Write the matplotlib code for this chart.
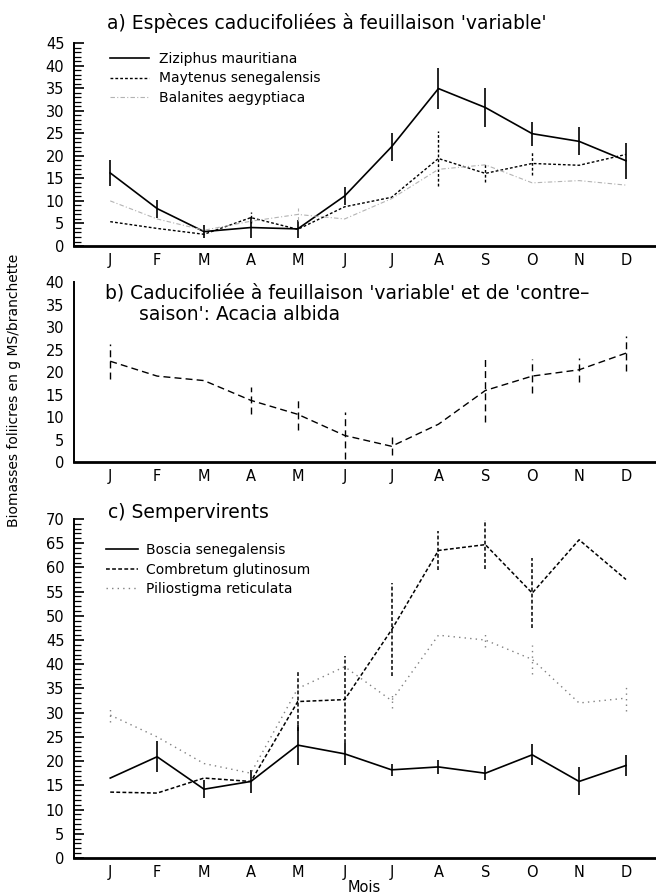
import numpy as np
import matplotlib
matplotlib.use("Agg")
from matplotlib import pyplot as plt
from matplotlib.ticker import MultipleLocator
from matplotlib.lines import Line2D

plt.rcParams['font.family'] = ['DejaVu Sans']

mois = ['J', 'F', 'M', 'A', 'M', 'J', 'J', 'A', 'S', 'O', 'N', 'D']

# a) caducifoliees
ziziphus = [16.2, 8.3, 3.2, 4.1, 3.8, 11.1, 22, 34.9, 30.7, 24.9, 23.2, 18.9]
ziziphus_err = [2.8, 2, 1.5, 2.3, 2, 1.9, 3.1, 4.5, 4.4, 2.7, 3.1, 4]
maytenus = [5.4, 3.9, 2.6, 6.3, 3.7, 8.7, 10.8, 19.4, 16.1, 18.3, 17.9, 20.3]
maytenus_err = [0, 0, 0, 1.2, 0, 0, 0, 6, 2, 2.5, 0, 0]
balanites = [10, 6, 3.5, 5.5, 7, 6, 10.5, 17, 18, 14, 14.5, 13.5]
balanites_err = [0, 0, 0, 0, 1.5, 0, 0, 0, 0, 0, 0, 0]

# b) Acacia albida
acacia = [22.4, 19.1, 18.1, 13.7, 10.6, 5.9, 3.5, 8.4, 15.9, 19.1, 20.5, 24.2]
acacia_err = [3.9, 0, 0, 3, 3.5, 5.2, 2, 0, 6.9, 3.8, 2.7, 3.9]

# c) sempervirents
boscia = [16.5, 20.9, 14.2, 15.8, 23.3, 21.5, 18.2, 18.8, 17.5, 21.3, 15.8, 19.1]
boscia_err = [0, 3.2, 1.8, 2.3, 4.1, 2.2, 1.3, 1.5, 1.4, 2.2, 2.9, 2.1]
combretum = [13.6, 13.4, 16.5, 15.8, 32.3, 32.7, 47.1, 63.5, 64.7, 54.7, 65.7, 57.5]
combretum_err = [0, 0, 0, 0, 6, 9, 9.6, 4, 5, 7.2, 0, 0]
piliostigma = [29.5, 25, 19.5, 17.5, 35, 39.5, 32.5, 46, 45, 41, 32, 33]
piliostigma_err = [1.5, 0, 0, 0, 0, 0, 1.5, 0, 1.5, 3, 0, 2.6]

x = np.arange(12)

fig = plt.figure(figsize=(6.56, 8.94), dpi=100)
ax_a = fig.add_axes([0.113, 0.7248, 0.887, 0.2271])
ax_b = fig.add_axes([0.113, 0.4832, 0.887, 0.2013])
ax_c = fig.add_axes([0.113, 0.0403, 0.887, 0.3792])


def serie(ax, y, err, ls, color='black', lw=1.1):
    eb = ax.errorbar(x, y, yerr=err, color=color, ls=ls, lw=lw, elinewidth=lw,
                     capsize=0)
    for c in eb[2]:
        c.set_linestyle(ls)
    return Line2D([], [], color=color, ls=ls, lw=lw)


def habillage(ax, ymax, minor=True):
    ax.set_xlim(-0.77, 11.64)
    ax.set_ylim(0, ymax)
    ax.set_xticks(x)
    ax.set_xticklabels(mois, fontsize=10.5)
    ax.yaxis.set_major_locator(MultipleLocator(5))
    ax.tick_params(axis='x', length=0, pad=5)
    ax.tick_params(axis='y', direction='in', length=7, width=1.2, labelsize=10.5, pad=7)
    if minor:
        ax.yaxis.set_minor_locator(MultipleLocator(1))
        ax.tick_params(axis='y', which='minor', direction='in', length=5, width=0.9)
    for s in ['top', 'right']:
        ax.spines[s].set_visible(False)
    ax.spines['left'].set_linewidth(1.4)
    ax.spines['bottom'].set_linewidth(2)
    ax.patch.set_alpha(0)


h1 = serie(ax_a, ziziphus, ziziphus_err, '-', lw=1.2)
h2 = serie(ax_a, maytenus, maytenus_err, (0, (2, 1.5)), lw=1.0)
h3 = serie(ax_a, balanites, balanites_err, (0, (4, 2, 1, 2)), color='0.7', lw=0.8)
habillage(ax_a, 45)
ax_a.legend([h1, h2, h3], ['Ziziphus mauritiana', 'Maytenus senegalensis', 'Balanites aegyptiaca'],
            loc='upper left', bbox_to_anchor=(0.062, 0.956), frameon=False,
            borderpad=0, borderaxespad=0,
            fontsize=10, handlelength=2.8, handletextpad=0.72, labelspacing=0.4)
fig.text(107 / 656, 1 - 23 / 894, "a) Espèces caducifoliées à feuillaison 'variable'",
         fontsize=13.5, va='center')

serie(ax_b, acacia, acacia_err, (0, (5, 3)), lw=1.0)
habillage(ax_b, 40, minor=False)
ax_b.tick_params(axis='y', length=0)
fig.text(105 / 656, 1 - 293 / 894, "b) Caducifoliée à feuillaison 'variable' et de 'contre\u2013",
         fontsize=13.5, va='center')
fig.text(139 / 656, 1 - 315 / 894, "saison': Acacia albida", fontsize=13.5, va='center')

h4 = serie(ax_c, boscia, boscia_err, '-', lw=1.2)
h5 = serie(ax_c, combretum, combretum_err, (0, (2.5, 1.5)), lw=1.1)
h6 = serie(ax_c, piliostigma, piliostigma_err, (0, (1, 3)), color='0.5', lw=1.0)
habillage(ax_c, 70)
ax_c.legend([h4, h5, h6], ['Boscia senegalensis', 'Combretum glutinosum', 'Piliostigma reticulata'],
            loc='upper left', bbox_to_anchor=(0.055, 0.929), frameon=False,
            borderpad=0, borderaxespad=0,
            fontsize=10, handlelength=2.3, handletextpad=0.58, labelspacing=0.4)
fig.text(108 / 656, 1 - 513 / 894, "c) Sempervirents", fontsize=13.5, va='center')

fig.text(364 / 656, 1 - 888 / 894, "Mois", fontsize=10.5, ha='center', va='center')
fig.text(14 / 656, 1 - 390 / 894, "Biomasses foliicres en g MS/branchette", fontsize=10,
         rotation=90, ha='center', va='center')

fig.savefig("out.png", dpi=100)
